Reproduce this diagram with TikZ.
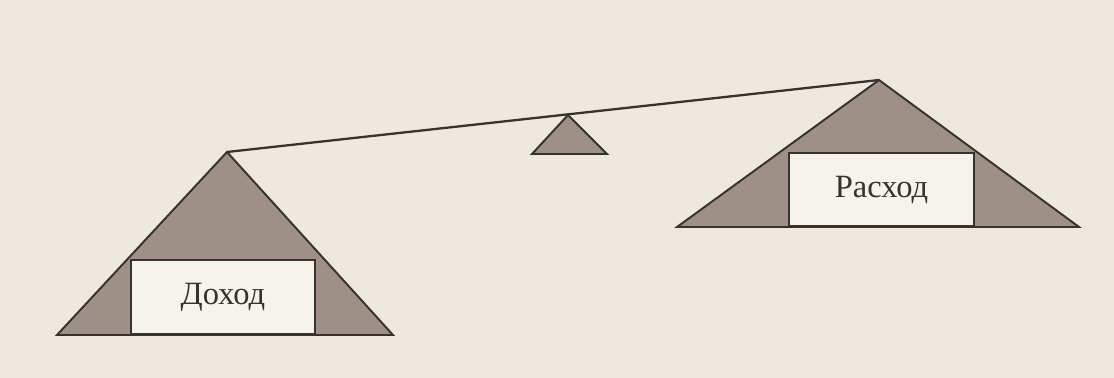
\documentclass[tikz,border=0pt]{standalone}
\usepackage{fontspec}
\setmainfont{Liberation Serif}
\usetikzlibrary{positioning,calc}

\definecolor{paper}{RGB}{238,233,222}
\definecolor{boxfill}{RGB}{246,243,236}
\definecolor{panfill}{RGB}{158,144,134}
\definecolor{ink}{RGB}{55,50,46}

\begin{document}
\begin{tikzpicture}[x=0.02cm, y=-0.02cm, line join=miter,
  pan/.style={draw=ink, line width=1.1pt, fill=panfill},
  wbox/.style={draw=ink, line width=1.1pt, fill=boxfill, inner sep=0pt,
               font=\fontsize{18.5}{22}\selectfont, text=ink}]
  \fill[paper] (0,0) rectangle (1114,378);

  % left pan (income)
  \coordinate (lapex) at (227,152);
  \draw[pan] (lapex) -- (393,335) -- (57,335) -- cycle;
  \node[wbox, anchor=south west,
        minimum width=3.68cm, minimum height=1.48cm] (income) at (130,335) {Доход};

  % right pan (expense)
  \coordinate (rapex) at (879,80);
  \draw[pan] (rapex) -- (1079,227) -- (677,227) -- cycle;
  \node[wbox, anchor=south west,
        minimum width=3.70cm, minimum height=1.46cm] (expense) at (788,227) {Расход};

  % fulcrum
  \coordinate (pivot) at (568,115);
  \draw[pan] (pivot) -- (607,154) -- (532,154) -- cycle;

  % beam
  \draw[ink, line width=1.3pt] (lapex) -- (rapex);
\end{tikzpicture}
\end{document}
